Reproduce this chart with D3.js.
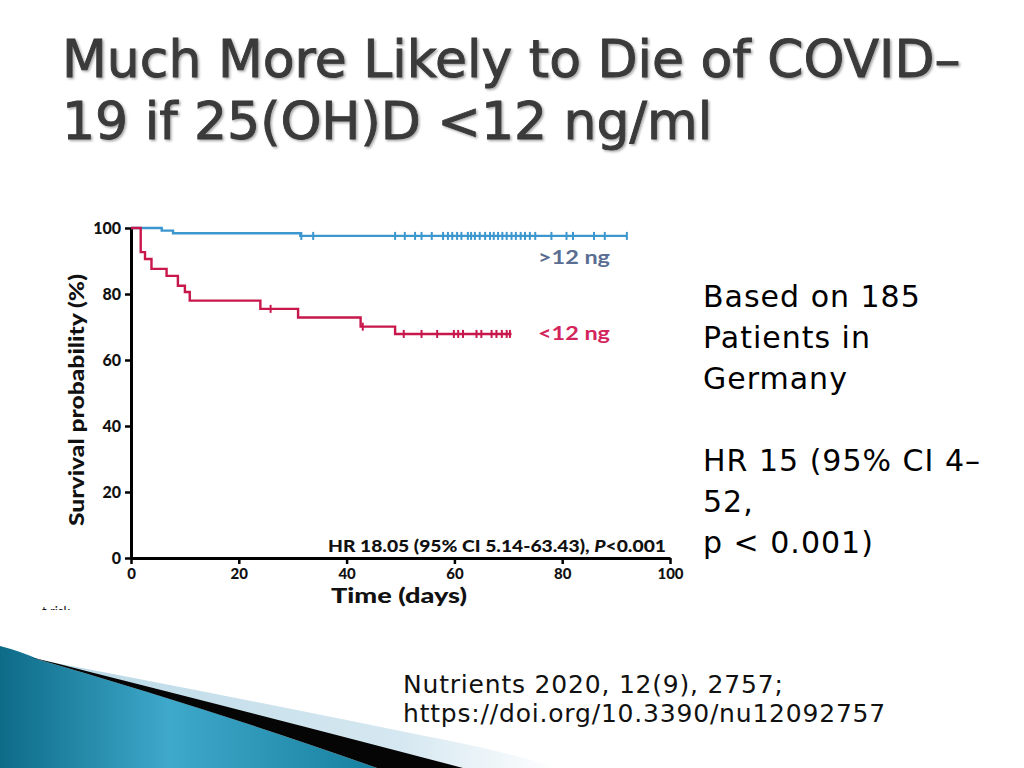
<!DOCTYPE html>
<html><head><meta charset="utf-8">
<script src="https://cdn.jsdelivr.net/npm/d3@7"></script>
<style>html,body{margin:0;padding:0;background:#fff;}svg{display:block;}</style>
</head><body>
<svg id="s" width="1024" height="768"></svg>
<script>
// ---------- data ----------
const titleLines = ["Much More Likely to Die of COVID–", "19 if 25(OH)D <12 ng/ml"];
const sideLines = ["Based on 185", "Patients in", "Germany", "", "HR 15 (95% CI 4–", "52,", "p < 0.001)"];
const refLines = ["Nutrients 2020, 12(9), 2757;", "https://doi.org/10.3390/nu12092757"];
const xTicks = [0, 20, 40, 60, 80, 100];
const yTicks = [0, 20, 40, 60, 80, 100];
const seriesNames = [">12 ng", "<12 ng"];
// Kaplan-Meier steps: time of event (days) and survival (%) after it
const highTimes = [0, 5.7, 7.8, 31.4];
const highSurv  = [100, 99.2, 98.4, 97.6];
const highEnd = 92.0;
const highCensor = [31.6, 33.8, 49.0, 50.8, 52.7, 53.9, 55.8, 57.9, 58.8, 59.6, 60.5, 61.3, 62.5, 63.1, 63.8, 64.7, 65.7, 66.6, 67.3, 68.1, 68.9, 69.7, 70.6, 71.4, 72.3, 73.1, 74.0, 75.0, 78.0, 80.8, 82.0, 85.9, 87.9, 92.0];
const lowTimes = [0, 1.8, 2.6, 3.8, 6.6, 8.7, 10.0, 10.9, 24.0, 31.0, 42.6, 49.0];
const lowSurv  = [100, 92.7, 90.6, 87.6, 85.5, 82.5, 80.6, 78.0, 75.5, 72.9, 70.1, 67.9];
const lowEnd = 70.6;
const lowCensor = [25.9, 43.0, 50.6, 53.9, 56.8, 59.9, 60.7, 61.6, 64.1, 65.0, 66.9, 67.8, 68.8, 69.7, 70.3];
const hrText = ["HR 18.05 (95% CI 5.14-63.43), ", "P", "<0.001"];

// ---------- drawing ----------
const svg = d3.select("#s");
const defs = svg.append("defs");

// decoration bottom-left
const gBlue = defs.append("linearGradient").attr("id","gb").attr("x1","0").attr("y1","0").attr("x2","1").attr("y2","0");
gBlue.append("stop").attr("offset","0").attr("stop-color","#0d6b88");
gBlue.append("stop").attr("offset","0.45").attr("stop-color","#3fa9cb");
gBlue.append("stop").attr("offset","1").attr("stop-color","#17809f");
const gPale = defs.append("linearGradient").attr("id","gp").attr("x1","0").attr("y1","0").attr("x2","1").attr("y2","0");
gPale.append("stop").attr("offset","0").attr("stop-color","#b9d8e6");
gPale.append("stop").attr("offset","0.7").attr("stop-color","#d6e8f1");
gPale.append("stop").attr("offset","1").attr("stop-color","#ffffff");
const deco = svg.append("g");
deco.append("path").attr("fill","url(#gp)")
  .attr("d","M40,660 Q250,700 420,735 Q500,750 560,768 L377,768 Z");
deco.append("path").attr("fill","url(#gb)")
  .attr("d","M0,646 Q20,651 40,660 Q220,712 377,768 L0,768 Z");
deco.append("path").attr("fill","#050505")
  .attr("d","M30,657 Q60,664 90,672 Q300,725 463,768 L377,768 Q220,712 30,657 Z");

// title
const shadow = defs.append("filter").attr("id","sh").attr("x","-5%").attr("y","-20%").attr("width","110%").attr("height","140%");
shadow.append("feDropShadow").attr("dx",1.5).attr("dy",1.5).attr("stdDeviation",1).attr("flood-color","#000").attr("flood-opacity",0.35);
svg.append("g").selectAll("text").data(titleLines).join("text")
  .attr("x", 62).attr("y", (d,i)=>77 + i*62)
  .attr("font-family","DejaVu Sans, Verdana, sans-serif").attr("font-size", 52)
  .attr("fill","#3a3a3a").attr("stroke","#3a3a3a").attr("stroke-width",0.9).attr("filter","url(#sh)")
  .text(d=>d);

// side text
svg.append("g").selectAll("text").data(sideLines).join("text")
  .attr("x", 703).attr("y", (d,i)=>307 + i*41)
  .attr("font-family","DejaVu Sans, Verdana, sans-serif").attr("font-size", 30).attr("letter-spacing", 1)
  .attr("fill","#000").text(d=>d);

// reference text
svg.append("g").selectAll("text").data(refLines).join("text")
  .attr("x", 403).attr("y", (d,i)=>693 + i*29)
  .attr("font-family","DejaVu Sans, Verdana, sans-serif").attr("font-size", 25).attr("letter-spacing", 0.8)
  .attr("fill","#111").text(d=>d);

// ---------- chart ----------
const clip = defs.append("clipPath").attr("id","cc");
clip.append("rect").attr("x",30).attr("y",200).attr("width",670).attr("height",410);
const chart = svg.append("g").attr("clip-path","url(#cc)");
const FONT = "Lato, 'Open Sans', sans-serif";

const x = d3.scaleLinear().domain([0,100]).range([131,670]);
const y = d3.scaleLinear().domain([0,100]).range([558,228]);

// axes
const yAx = chart.append("g").attr("transform","translate(131,0)")
  .call(d3.axisLeft(y).tickValues(yTicks).tickSize(6).tickSizeOuter(0).tickPadding(4).tickFormat(d3.format("d")));
const xAx = chart.append("g").attr("transform","translate(0,558)")
  .call(d3.axisBottom(x).tickValues(xTicks).tickSize(6).tickSizeOuter(0).tickPadding(4).tickFormat(d3.format("d")));
[yAx, xAx].forEach(a=>{
  a.select(".domain").attr("stroke","#000").attr("stroke-width",3);
  a.selectAll(".tick line").attr("stroke","#000").attr("stroke-width",2.5);
  a.selectAll(".tick text").attr("font-family",FONT).attr("font-weight","900").attr("font-size",15).attr("fill","#111");
});
yAx.selectAll(".tick text").attr("dy","0.36em").attr("font-size",16);

// step lines
function stepData(times, surv, end){
  const pts = times.map((t,i)=>[t, surv[i]]);
  pts.push([end, surv[surv.length-1]]);
  return pts;
}
function survAt(times, surv, t){
  let v = surv[0];
  for(let i=0;i<times.length;i++){ if(times[i] <= t) v = surv[i]; }
  return v;
}
const line = d3.line().x(d=>x(d[0])).y(d=>y(d[1])).curve(d3.curveStepAfter);
const series = [
  {times: highTimes, surv: highSurv, end: highEnd, cens: highCensor, color:"#3d97cf", lab:"#5a6d92", ly: 264},
  {times: lowTimes, surv: lowSurv, end: lowEnd, cens: lowCensor, color:"#c8174b", lab:"#d3245c", ly: 340}
];
series.forEach((s,k)=>{
  chart.append("path").datum(stepData(s.times, s.surv, s.end))
    .attr("fill","none").attr("stroke",s.color).attr("stroke-width",2.4).attr("d",line);
  chart.append("g").selectAll("line").data(s.cens).join("line")
    .attr("x1",d=>x(d)).attr("x2",d=>x(d))
    .attr("y1",d=>y(survAt(s.times,s.surv,d))-4).attr("y2",d=>y(survAt(s.times,s.surv,d))+4)
    .attr("stroke",s.color).attr("stroke-width",2);
  chart.append("text").attr("x",538).attr("y",s.ly)
    .attr("font-family",FONT).attr("font-weight","bold").attr("font-size",19)
    .attr("fill",s.lab).attr("textLength",72).attr("lengthAdjust","spacingAndGlyphs")
    .text(seriesNames[k]);
});

// HR annotation
const hr = chart.append("text").attr("x",328).attr("y",552)
  .attr("font-family",FONT).attr("font-weight","900").attr("font-size",16).attr("fill","#111")
  .attr("textLength",338).attr("lengthAdjust","spacingAndGlyphs");
hr.append("tspan").text(hrText[0]);
hr.append("tspan").attr("font-style","italic").text(hrText[1]);
hr.append("tspan").text(hrText[2]);

// axis titles
chart.append("text").attr("transform","translate(84,400) rotate(-90)")
  .attr("text-anchor","middle").attr("font-family",FONT).attr("font-weight","900").attr("font-size",21)
  .attr("fill","#111").attr("textLength",252).attr("lengthAdjust","spacingAndGlyphs")
  .text("Survival probability (%)");
chart.append("text").attr("x",399).attr("y",603)
  .attr("text-anchor","middle").attr("font-family",FONT).attr("font-weight","900").attr("font-size",21)
  .attr("fill","#111").attr("textLength",136).attr("lengthAdjust","spacingAndGlyphs")
  .text("Time (days)");
chart.append("text").attr("x",42).attr("y",616)
  .attr("font-family",FONT).attr("font-size",13).attr("fill","#111").text("t risk");
</script>
</body></html>
